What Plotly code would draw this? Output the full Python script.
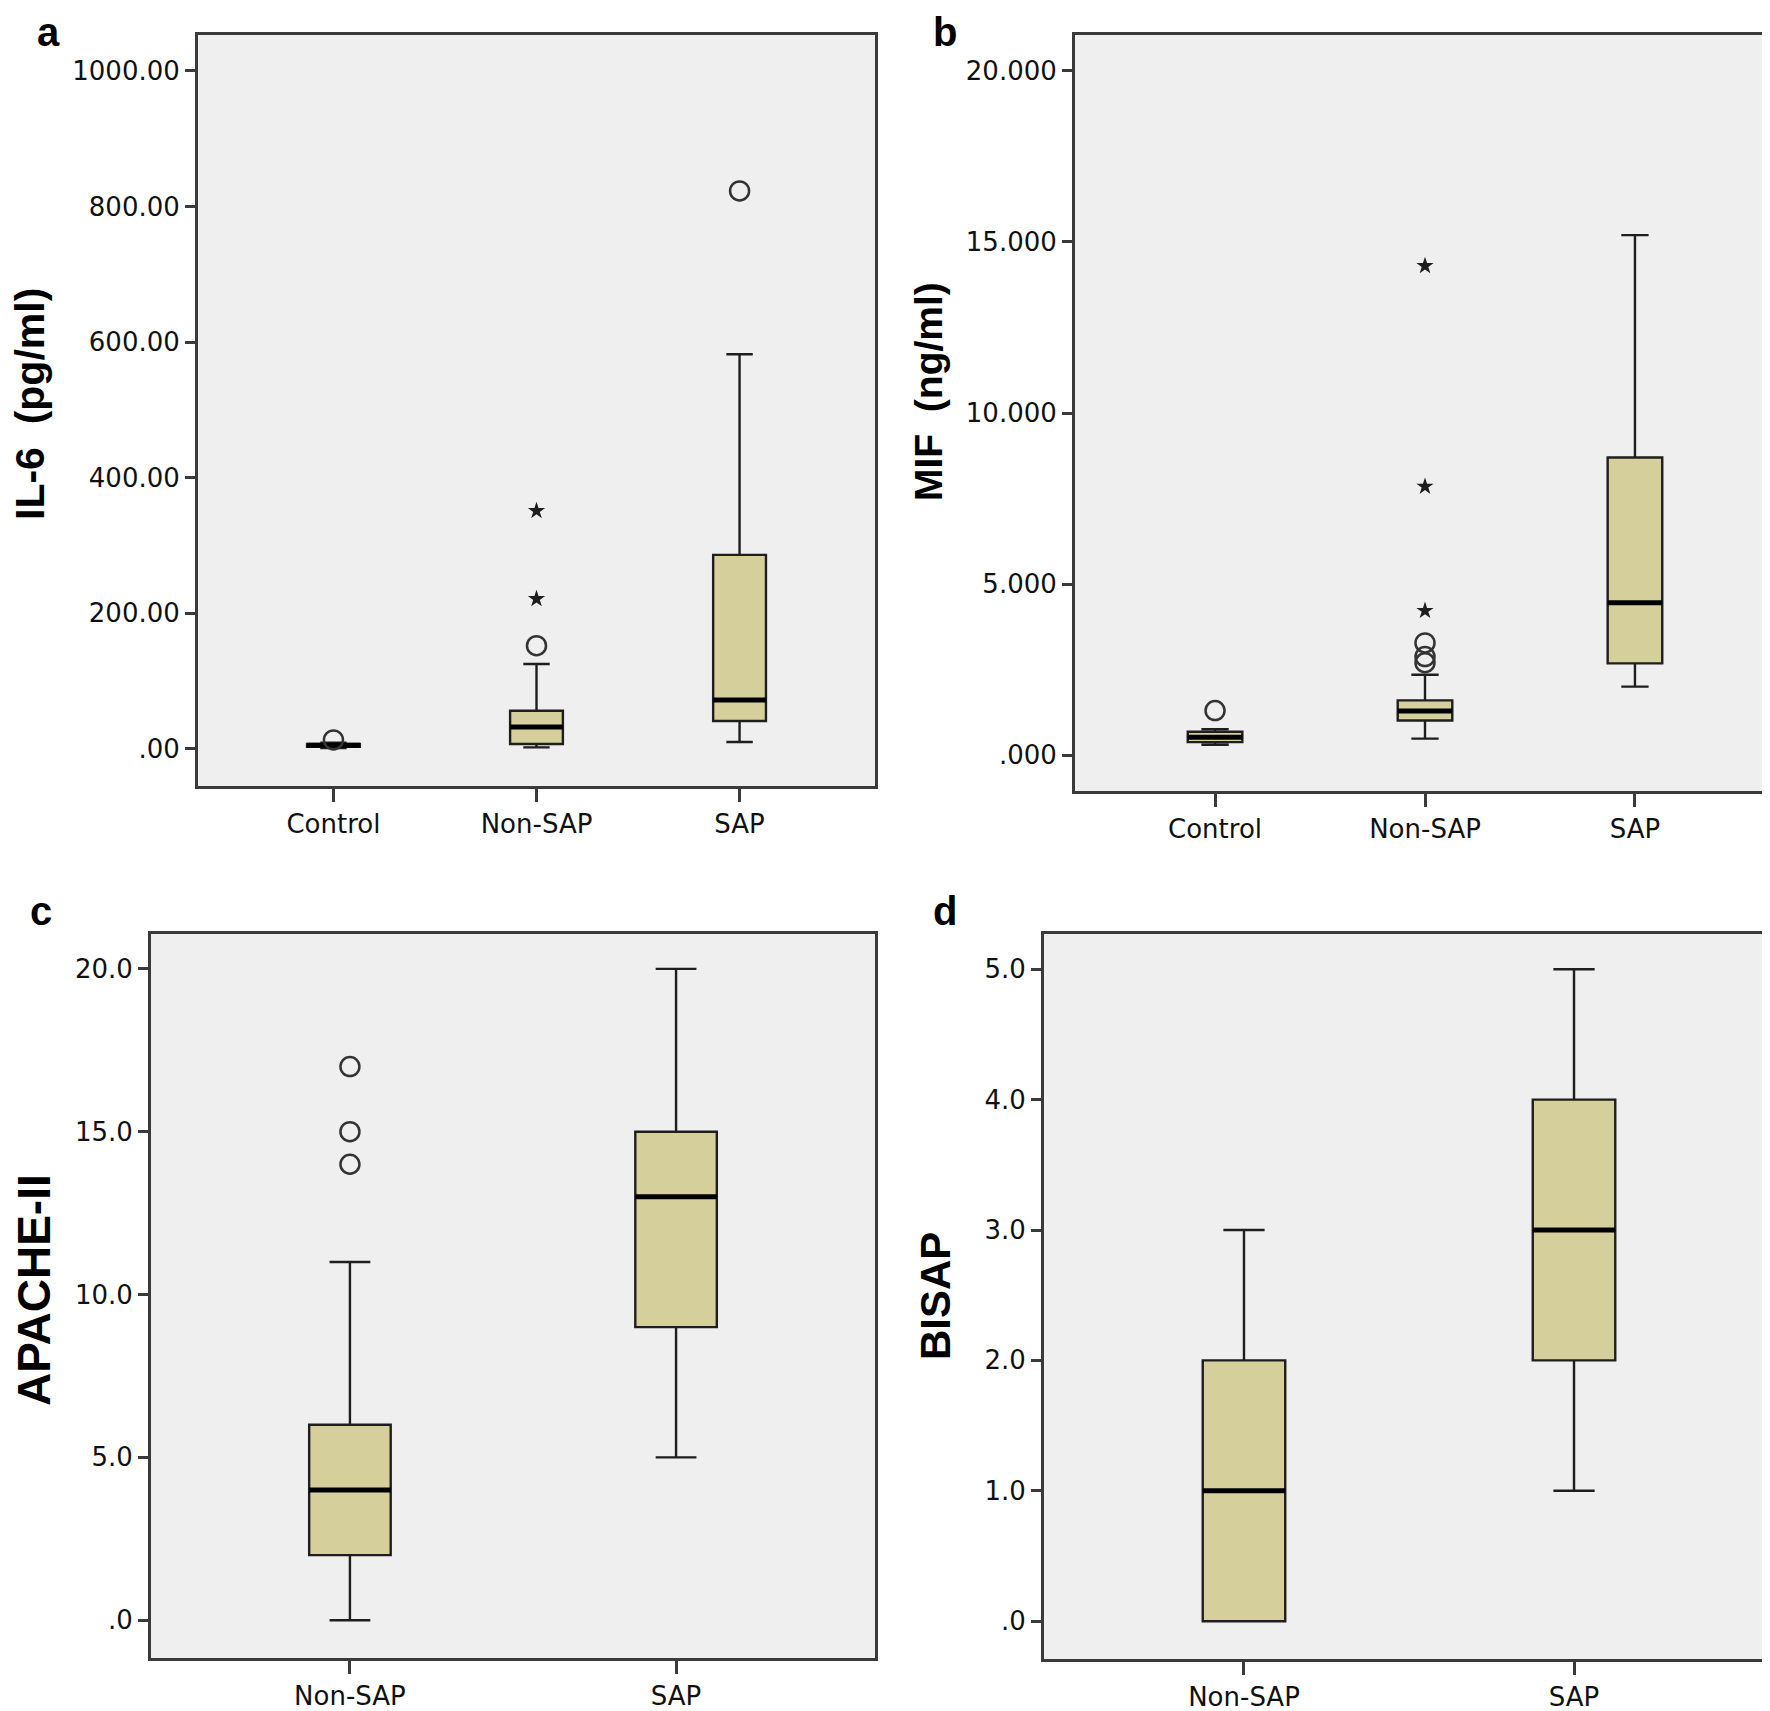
import plotly.graph_objects as go

# ---- data ----
groups_ab = ["Control", "Non-SAP", "SAP"]
groups_cd = ["Non-SAP", "SAP"]

# a: IL-6 (pg/ml)
il6_low = [1, 2, 10]
il6_q1 = [3, 7, 41]
il6_median = [5, 32, 72]
il6_q3 = [7, 56, 286]
il6_high = [9, 125, 582]
il6_circle_group = ["Control", "Non-SAP", "SAP"]
il6_circle_value = [13, 152, 823]
il6_star_group = ["Non-SAP", "Non-SAP"]
il6_star_value = [221, 351]
il6_ticks = [0, 200, 400, 600, 800, 1000]
il6_ticktext = [".00", "200.00", "400.00", "600.00", "800.00", "1000.00"]

# b: MIF (ng/ml)
mif_low = [0.30, 0.48, 2.00]
mif_q1 = [0.38, 1.01, 2.68]
mif_median = [0.52, 1.29, 4.45]
mif_q3 = [0.68, 1.60, 8.70]
mif_high = [0.76, 2.35, 15.20]
mif_circle_group = ["Control", "Non-SAP", "Non-SAP", "Non-SAP"]
mif_circle_value = [1.30, 2.70, 2.88, 3.28]
mif_star_group = ["Non-SAP", "Non-SAP", "Non-SAP"]
mif_star_value = [4.22, 7.85, 14.30]
mif_ticks = [0, 5, 10, 15, 20]
mif_ticktext = [".000", "5.000", "10.000", "15.000", "20.000"]

# c: APACHE-II
apache_low = [0, 5]
apache_q1 = [2, 9]
apache_median = [4, 13]
apache_q3 = [6, 15]
apache_high = [11, 20]
apache_circle_group = ["Non-SAP", "Non-SAP", "Non-SAP"]
apache_circle_value = [14, 15, 17]
apache_ticks = [0, 5, 10, 15, 20]
apache_ticktext = [".0", "5.0", "10.0", "15.0", "20.0"]

# d: BISAP
bisap_low = [0, 1]
bisap_q1 = [0, 2]
bisap_median = [1, 3]
bisap_q3 = [2, 4]
bisap_high = [3, 5]
bisap_ticks = [0, 1, 2, 3, 4, 5]
bisap_ticktext = [".0", "1.0", "2.0", "3.0", "4.0", "5.0"]

FILL = "#d5d09b"
INK = "#1e1e1e"
FRAME = "#3a3a3a"

fig = go.Figure()


def add_panel(n, groups, low, q1, med, q3, high, box_w,
              circ_g=None, circ_v=None, star_g=None, star_v=None):
    xa = "x" if n == 1 else f"x{n}"
    ya = "y" if n == 1 else f"y{n}"
    pos = list(range(len(groups)))
    fig.add_trace(go.Box(
        x=pos, q1=q1, median=med, q3=q3, lowerfence=low, upperfence=high,
        width=box_w, whiskerwidth=0.5, fillcolor=FILL,
        line=dict(color=INK, width=2.4), boxpoints=False,
        xaxis=xa, yaxis=ya, showlegend=False, hoverinfo="skip"))
    # thick SPSS-style median bar
    mx, my = [], []
    for p, m in zip(pos, med):
        mx += [p - box_w / 2, p + box_w / 2, None]
        my += [m, m, None]
    fig.add_trace(go.Scatter(x=mx, y=my, mode="lines",
                             line=dict(color="black", width=5),
                             xaxis=xa, yaxis=ya, showlegend=False, hoverinfo="skip"))
    if circ_g:
        fig.add_trace(go.Scatter(
            x=[groups.index(g) for g in circ_g], y=circ_v, mode="markers",
            marker=dict(symbol="circle-open", size=19, color="#333333", line=dict(width=2.5)),
            xaxis=xa, yaxis=ya, showlegend=False, hoverinfo="skip"))
    if star_g:
        fig.add_trace(go.Scatter(
            x=[groups.index(g) for g in star_g], y=star_v, mode="markers",
            marker=dict(symbol="star", size=13, color=INK, line=dict(width=0)),
            xaxis=xa, yaxis=ya, showlegend=False, hoverinfo="skip"))


add_panel(1, groups_ab, il6_low, il6_q1, il6_median, il6_q3, il6_high, 0.26,
          il6_circle_group, il6_circle_value, il6_star_group, il6_star_value)
add_panel(2, groups_ab, mif_low, mif_q1, mif_median, mif_q3, mif_high, 0.26,
          mif_circle_group, mif_circle_value, mif_star_group, mif_star_value)
add_panel(3, groups_cd, apache_low, apache_q1, apache_median, apache_q3, apache_high, 0.25,
          apache_circle_group, apache_circle_value)
add_panel(4, groups_cd, bisap_low, bisap_q1, bisap_median, bisap_q3, bisap_high, 0.25)

W, H = 1770, 1711
tick_font = dict(family="DejaVu Sans", size=26, color="#111111")


def xaxis(dom, groups, rng, anchor):
    return dict(domain=dom, range=rng, tickvals=list(range(len(groups))), ticktext=groups,
                showline=True, mirror=True, linecolor=FRAME, linewidth=3,
                ticks="outside", ticklen=13, tickwidth=3, tickcolor=FRAME,
                showgrid=False, zeroline=False, tickfont=tick_font, anchor=anchor)


def yaxis(dom, ticks, text, rng, anchor):
    return dict(domain=dom, range=rng, tickvals=ticks, ticktext=text,
                showline=True, mirror=True, linecolor=FRAME, linewidth=3,
                ticks="outside", ticklen=10, tickwidth=3, tickcolor=FRAME,
                showgrid=False, zeroline=False, tickfont=tick_font, anchor=anchor)


def px_x(a, b):
    return [a / W, b / W]


def px_y(top, bottom):
    return [1 - bottom / H, 1 - top / H]


fig.update_layout(
    width=W, height=H, margin=dict(l=0, r=0, t=0, b=0),
    paper_bgcolor="white", plot_bgcolor="#efefef",
    xaxis=xaxis(px_x(190, 867), groups_ab, [-0.667, 2.667], "y"),
    yaxis=yaxis(px_y(27, 778), il6_ticks, il6_ticktext, [-55, 1053], "x"),
    xaxis2=xaxis(px_x(1067, 1767), groups_ab, [-0.667, 2.667], "y2"),
    yaxis2=yaxis(px_y(27, 783), mif_ticks, mif_ticktext, [-1.05, 21.05], "x2"),
    xaxis3=xaxis(px_x(143, 867), groups_cd, [-0.61, 1.61], "y3"),
    yaxis3=yaxis(px_y(926, 1650), apache_ticks, apache_ticktext, [-1.16, 21.07], "x3"),
    xaxis4=xaxis(px_x(1036, 1767), groups_cd, [-0.606, 1.609], "y4"),
    yaxis4=yaxis(px_y(926, 1651), bisap_ticks, bisap_ticktext, [-0.29, 5.27], "x4"),
)

# panel letters
letter_font = dict(family="Liberation Sans", size=40, color="black", weight="bold")
for txt, x in [("a", 27), ("b", 923)]:
    fig.add_annotation(text=txt, x=x / W, y=1, xref="paper", yref="paper",
                       xanchor="left", yanchor="top", showarrow=False, font=letter_font)
for txt, x in [("c", 20), ("d", 923)]:
    fig.add_annotation(text=txt, x=x / W, y=1 - 927 / H, xref="paper", yref="paper",
                       xanchor="left", yanchor="bottom", showarrow=False, font=letter_font)

# rotated axis titles
titles = [("IL-6  (pg/ml)", 22, 396, 41), ("MIF  (ng/ml)", 921, 384, 39),
          ("APACHE-II", 26, 1282, 46), ("BISAP", 927, 1288, 42)]
for txt, x, y, s in titles:
    fig.add_annotation(text=txt, x=x / W, y=1 - y / H, xref="paper", yref="paper",
                       xanchor="center", yanchor="middle", textangle=-90, showarrow=False,
                       font=dict(family="Liberation Sans", size=s, color="black", weight="bold"))

fig.write_html("out.html")
